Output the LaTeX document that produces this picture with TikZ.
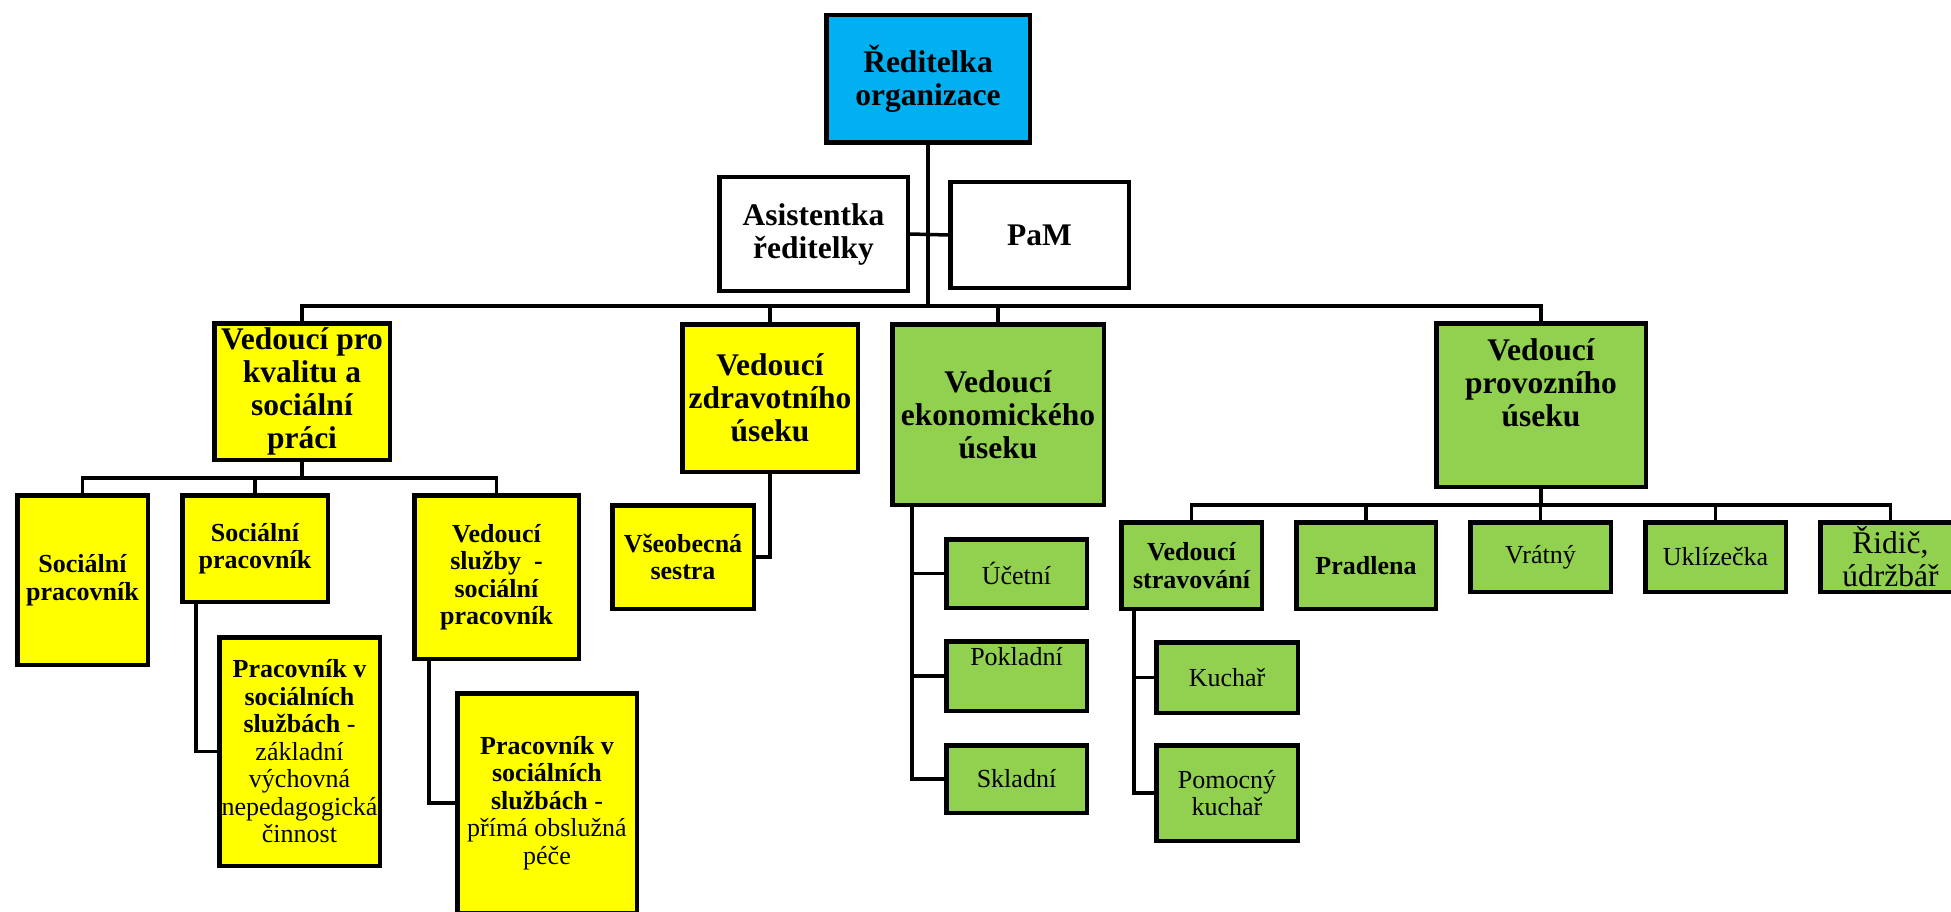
\documentclass[tikz,border=0pt]{standalone}
\usepackage{fontspec}
\setmainfont{Liberation Serif}
\definecolor{cblue}{HTML}{00B0F0}
\definecolor{cyel}{HTML}{FFFF00}
\definecolor{cgrn}{HTML}{92D050}
\tikzset{
  box/.style={draw=black, line width=4.5pt, align=center, inner sep=0pt, anchor=center},
  sz/.style 2 args={minimum width={(#1-4.5)*1pt}, minimum height={(#2-4.5)*1pt}},
  bigb/.style={font=\fontsize{31.5}{33}\selectfont\bfseries},
  bigr/.style={font=\fontsize{31.5}{33}\selectfont},
  smb/.style={font=\fontsize{26}{27.5}\selectfont\bfseries},
  smr/.style={font=\fontsize{26}{27.5}\selectfont},
  txt/.style={align=center, inner sep=0pt, anchor=center},
  yel/.style={fill=cyel}, grn/.style={fill=cgrn}, blu/.style={fill=cblue}, wht/.style={fill=white},
  conn/.style={line width=3.5pt}
}
\begin{document}
\begin{tikzpicture}[x=1pt, y=-1pt]
\useasboundingbox (0,0) rectangle (1951,912);
\clip (0,0) rectangle (1951,912);
\fill[white] (0,0) rectangle (1951,912);

% level 0/1
\node[box, blu, sz={208}{132}, bigb] (dir) at (928,79) {Ředitelka\\organizace};
\node[box, wht, sz={193}{118}, bigb] (asst) at (813.5,234) {Asistentka\\ředitelky};
\node[box, wht, sz={183}{110}, bigb] (pam) at (1039.5,235) {PaM};

% level 2
\node[box, yel, sz={180}{141}, bigb] (kval) at (302,391.5) {Vedoucí pro\\kvalitu a\\sociální\\práci};
\node[box, yel, sz={180}{152}, bigb] (zdrav) at (770,398) {Vedoucí\\zdravotního\\úseku};
\node[box, grn, sz={216}{185}, bigb] (ekon) at (998,414.5) {Vedoucí\\ekonomického\\úseku};
\node[box, grn, sz={214}{168}] (prov) at (1541,405) {};
\node[txt, bigb] (provt) at (1541,383) {Vedoucí\\provozního\\úseku};

% kvalita branch
\node[box, yel, sz={135}{174}, smb] (sp1) at (82.5,580) {Sociální\\pracovník};
\node[box, yel, sz={150}{111}, smb] (sp2) at (255,548.5) {Sociální\\pracovník};
\node[box, yel, sz={169}{168}, smb] (vsl) at (496.5,577) {Vedoucí\\služby\ \ -\\sociální\\pracovník};
\node[box, yel, sz={165}{233}, smb] (pss1) at (299.5,751.5) {Pracovník v\\sociálních\\službách\mdseries{} -\\\mdseries základní\\\mdseries výchovná\\\mdseries nepedagogická\\\mdseries činnost};
\node[box, yel, sz={184}{224}, smb] (pss2) at (547,803) {Pracovník v\\sociálních\\službách\mdseries{} -\\\mdseries přímá obslužná\\\mdseries péče};

% zdravotni branch
\node[box, yel, sz={146}{108}, smb] (sestra) at (683,557) {Všeobecná\\sestra};

% ekonomicky branch
\node[box, grn, sz={145}{73}, smr] (ucet) at (1016.5,573.5) {Účetní};
\node[box, grn, sz={145}{74}] (pokl) at (1016.5,676) {};
\node[txt, smr] (poklt) at (1016.5,657) {Pokladní};
\node[box, grn, sz={145}{72}, smr] (sklad) at (1016.5,779) {Skladní};

% provozni branch
\node[box, grn, sz={145}{91}, smb] (strav) at (1191.5,565.5) {Vedoucí\\stravování};
\node[box, grn, sz={144}{91}, smb] (pradl) at (1366,565.5) {Pradlena};
\node[box, grn, sz={145}{74}, smr] (vrat) at (1540.5,557) {Vrátný};
\node[box, grn, sz={145}{74}, smr] (ukl) at (1715.5,557) {Uklízečka};
\node[box, grn, sz={145}{74}, bigr] (ridic) at (1890.5,557) {Řidič,\\údržbář};
\node[box, grn, sz={146}{75}, smr] (kuch) at (1227,677.5) {Kuchař};
\node[box, grn, sz={146}{100}, smr] (pkuch) at (1227,793) {Pomocný\\kuchař};

% connectors
\coordinate (bus) at (928,306);
\draw[conn] (dir.south) -- (bus);
\draw[conn] (asst.east) -- (pam.west);
\draw[conn] (kval.north) |- (prov.north |- bus) -- (prov.north);
\draw[conn] (zdrav.north) -- (zdrav.north |- bus);
\draw[conn] (ekon.north) -- (ekon.north |- bus);

\coordinate (kb) at (302,478);
\draw[conn] (kval.south) -- (kb);
\draw[conn] (sp1.north) |- (vsl.north |- kb) -- (vsl.north);
\draw[conn] (sp2.north) -- (sp2.north |- kb);
\draw[conn] ([xshift=-59pt]sp2.south) |- (pss1.west);
\draw[conn] ([xshift=-67.5pt]vsl.south) |- (pss2.west);

\draw[conn] (zdrav.south) |- (sestra.east);

\coordinate (ek) at ([xshift=-86pt]ekon.south);
\draw[conn] (ek) |- (sklad.west);
\draw[conn] (ucet.west) -- (ucet.west -| ek);
\draw[conn] (pokl.west) -- (pokl.west -| ek);

\coordinate (pb) at (1541,505);
\draw[conn] (prov.south) -- (pb);
\draw[conn] (strav.north) |- (ridic.north |- pb) -- (ridic.north);
\draw[conn] (pradl.north) -- (pradl.north |- pb);
\draw[conn] (vrat.north) -- (vrat.north |- pb);
\draw[conn] (ukl.north) -- (ukl.north |- pb);

\coordinate (sv) at ([xshift=-57.5pt]strav.south);
\draw[conn] (sv) |- (pkuch.west);
\draw[conn] (kuch.west) -- (kuch.west -| sv);
\end{tikzpicture}
\end{document}
